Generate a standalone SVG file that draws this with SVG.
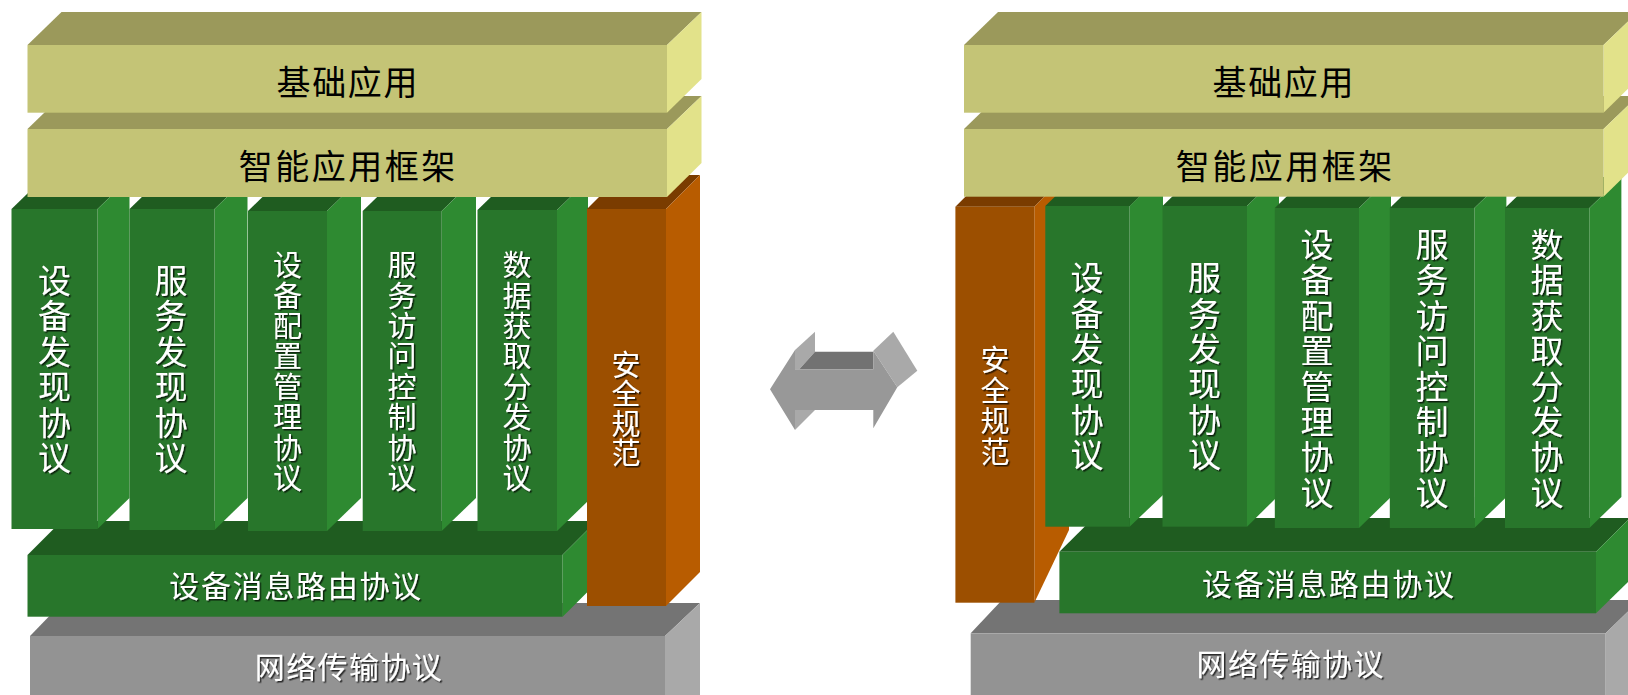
<svg xmlns="http://www.w3.org/2000/svg" width="1628" height="695" viewBox="0 0 1628 695">
<defs>
<style>
.yf{fill:#c4c476}.yt{fill:#9b995b}.ys{fill:#e2e28a}
.gf{fill:#28762b}.gt{fill:#1f5c20}.gs{fill:#2e8a31}
.of{fill:#9c4f00}.ot{fill:#7a3c00}.os{fill:#b85c00}
.nf{fill:#939393}.nt{fill:#747474}.ns{fill:#a9a9a9}
.af{fill:#989898}.at{fill:#727272}.as{fill:#a9a9a9}
text{font-family:"Liberation Sans","Noto Sans CJK SC","Noto Sans CJK JP",sans-serif}
.bk{fill:#000;font-size:34px;text-anchor:middle}
.wt{fill:#fff;text-anchor:middle;filter:url(#sh)}
.v33{font-size:33px}.v29{font-size:29px}.h30{font-size:30px}
</style>
<filter id="sh" x="-20%" y="-20%" width="140%" height="140%">
<feDropShadow dx="1.5" dy="1.5" stdDeviation="0.6" flood-color="#000" flood-opacity="0.7"/>
</filter>
</defs>
<rect width="1628" height="695" fill="#fff"/>

<!-- LEFT STACK -->
<g id="left-network">
<polygon class="nt" points="30,636 62,603 700,603 665,636"/>
<polygon class="ns" points="665,636 700,603 700,695 665,695"/>
<rect class="nf" x="30" y="636" width="635" height="59"/>
<text class="wt h30" x="349" y="678.4" letter-spacing="1.4">网络传输协议</text>
</g>
<g id="left-routing">
<polygon class="gt" points="27.5,555 61.5,521 596.5,521 562.4,555"/>
<polygon class="gs" points="562.4,555 596.5,521 596.5,583 562.4,617"/>
<rect class="gf" x="27.5" y="555" width="534.9" height="61.7"/>
<text class="wt h30" x="296" y="597.4" letter-spacing="1.7">设备消息路由协议</text>
</g>
<g id="left-col1">
<polygon class="gt" points="11.5,209 43.5,178 129.5,178 97.5,209"/>
<polygon class="gs" points="97.5,209 129.5,178 129.5,498 97.5,529"/>
<rect class="gf" x="11.5" y="209" width="86" height="320"/>
<text class="wt v33"><tspan x="54.5" y="293">设</tspan><tspan x="54.5" y="328.4">备</tspan><tspan x="54.5" y="363.8">发</tspan><tspan x="54.5" y="399.2">现</tspan><tspan x="54.5" y="434.6">协</tspan><tspan x="54.5" y="470">议</tspan></text>
</g>
<g id="left-col2">
<polygon class="gt" points="129.5,209 161.5,178 246.5,178 214.5,209"/>
<polygon class="gs" points="214.5,209 247.5,177 247.5,498 214.5,530"/>
<rect class="gf" x="129.5" y="209" width="85" height="321"/>
<text class="wt v33"><tspan x="171" y="293">服</tspan><tspan x="171" y="328.4">务</tspan><tspan x="171" y="363.8">发</tspan><tspan x="171" y="399.2">现</tspan><tspan x="171" y="434.6">协</tspan><tspan x="171" y="470">议</tspan></text>
</g>
<g id="left-col3">
<polygon class="gt" points="248,211 280,180 359,180 327,211"/>
<polygon class="gs" points="327,211 361,178 361,498 327,531"/>
<rect class="gf" x="248" y="211" width="79" height="320"/>
<text class="wt v29"><tspan x="287.5" y="276.1">设</tspan><tspan x="287.5" y="306.5">备</tspan><tspan x="287.5" y="336.9">配</tspan><tspan x="287.5" y="367.3">置</tspan><tspan x="287.5" y="397.7">管</tspan><tspan x="287.5" y="428.1">理</tspan><tspan x="287.5" y="458.5">协</tspan><tspan x="287.5" y="488.9">议</tspan></text>
</g>
<g id="left-col4">
<polygon class="gt" points="362.7,211 394.7,180 473.7,180 441.7,211"/>
<polygon class="gs" points="441.7,211 476,178 476,498 441.7,531"/>
<rect class="gf" x="362.7" y="211" width="79" height="320"/>
<text class="wt v29"><tspan x="402" y="276.1">服</tspan><tspan x="402" y="306.5">务</tspan><tspan x="402" y="336.9">访</tspan><tspan x="402" y="367.3">问</tspan><tspan x="402" y="397.7">控</tspan><tspan x="402" y="428.1">制</tspan><tspan x="402" y="458.5">协</tspan><tspan x="402" y="488.9">议</tspan></text>
</g>
<g id="left-col5">
<polygon class="gt" points="477.5,210 508.5,180 588,180 557,210"/>
<polygon class="gs" points="557,210 588,180 588,501 557,531"/>
<rect class="gf" x="477.5" y="210" width="79.5" height="321"/>
<text class="wt v29"><tspan x="517" y="276.1">数</tspan><tspan x="517" y="306.5">据</tspan><tspan x="517" y="336.9">获</tspan><tspan x="517" y="367.3">取</tspan><tspan x="517" y="397.7">分</tspan><tspan x="517" y="428.1">发</tspan><tspan x="517" y="458.5">协</tspan><tspan x="517" y="488.9">议</tspan></text>
</g>
<g id="left-security">
<polygon class="ot" points="587,209 621,175 700,175 666,209"/>
<polygon class="os" points="666,209 700,175 700,572 666,606"/>
<rect class="of" x="587" y="209" width="79" height="397"/>
<text class="wt v29"><tspan x="626" y="375.6">安</tspan><tspan x="626" y="405.2">全</tspan><tspan x="626" y="434.8">规</tspan><tspan x="626" y="464.4">范</tspan></text>
</g>
<g id="left-framework">
<polygon class="yt" points="27.5,129 61.5,96 701.5,96 667,129"/>
<polygon class="ys" points="667,129 701.5,96 701.5,163 667,197"/>
<rect class="yf" x="27.5" y="129" width="639.5" height="68"/>
<text class="bk" x="348.3" y="178.9" letter-spacing="2.5">智能应用框架</text>
</g>
<g id="left-app">
<polygon class="yt" points="27.5,45 61.5,12 701.5,12 667,45"/>
<polygon class="ys" points="667,45 701.5,12 701.5,79 667,112.7"/>
<rect class="yf" x="27.5" y="45" width="639.5" height="67.7"/>
<text class="bk" x="347.8" y="94.6" letter-spacing="1.6">基础应用</text>
</g>

<!-- RIGHT STACK -->
<g id="right-network">
<polygon class="nt" points="970.7,633.3 1002,600 1640,600 1605.6,633.3"/>
<polygon class="ns" points="1605.6,633.3 1640,600 1640,695 1605.6,695"/>
<rect class="nf" x="970.7" y="633.3" width="634.9" height="62"/>
<text class="wt h30" x="1290.7" y="675.4" letter-spacing="1.4">网络传输协议</text>
</g>
<g id="right-security">
<polygon class="ot" points="955.4,206.7 990,172 1069,172 1034.3,206.7"/>
<polygon class="os" points="1034.3,206.7 1069,172 1069,530 1034.3,602.7"/>
<rect class="of" x="955.4" y="206.7" width="78.9" height="396"/>
<text class="wt v29"><tspan x="995" y="371.4">安</tspan><tspan x="995" y="401.8">全</tspan><tspan x="995" y="432.2">规</tspan><tspan x="995" y="462.6">范</tspan></text>
</g>
<g id="right-routing">
<polygon class="gt" points="1059.4,551.7 1093.4,518 1630,518 1596,551.7"/>
<polygon class="gs" points="1596,551.7 1630,518 1630,580 1596,613.3"/>
<rect class="gf" x="1059.4" y="551.7" width="536.6" height="61.6"/>
<text class="wt h30" x="1328.8" y="595.4" letter-spacing="1.7">设备消息路由协议</text>
</g>
<g id="right-col1">
<polygon class="gt" points="1045.3,206 1077.3,175 1162,175 1130,206"/>
<polygon class="gs" points="1129.6,206 1163,174 1163,495 1129.6,526.7"/>
<rect class="gf" x="1045.3" y="206" width="84.3" height="320.7"/>
<text class="wt v33"><tspan x="1087" y="290.3">设</tspan><tspan x="1087" y="325.6">备</tspan><tspan x="1087" y="360.9">发</tspan><tspan x="1087" y="396.2">现</tspan><tspan x="1087" y="431.5">协</tspan><tspan x="1087" y="466.8">议</tspan></text>
</g>
<g id="right-col2">
<polygon class="gt" points="1162.5,206 1194.5,175 1279,175 1247,206"/>
<polygon class="gs" points="1247,206 1279,175 1279,495 1247,526.7"/>
<rect class="gf" x="1162.5" y="206" width="84.5" height="320.7"/>
<text class="wt v33"><tspan x="1204.5" y="290.3">服</tspan><tspan x="1204.5" y="325.6">务</tspan><tspan x="1204.5" y="360.9">发</tspan><tspan x="1204.5" y="396.2">现</tspan><tspan x="1204.5" y="431.5">协</tspan><tspan x="1204.5" y="466.8">议</tspan></text>
</g>
<g id="right-col3">
<polygon class="gt" points="1274.8,208 1306.8,177 1391,177 1359,208"/>
<polygon class="gs" points="1359,208 1391,177 1391,497 1359,528"/>
<rect class="gf" x="1274.8" y="208" width="84.2" height="320"/>
<text class="wt v33"><tspan x="1317" y="256.9">设</tspan><tspan x="1317" y="292.3">备</tspan><tspan x="1317" y="327.7">配</tspan><tspan x="1317" y="363.1">置</tspan><tspan x="1317" y="398.5">管</tspan><tspan x="1317" y="433.9">理</tspan><tspan x="1317" y="469.3">协</tspan><tspan x="1317" y="504.7">议</tspan></text>
</g>
<g id="right-col4">
<polygon class="gt" points="1389.8,208 1421.8,177 1506.4,177 1474.4,208"/>
<polygon class="gs" points="1474.4,208 1506.4,177 1506.4,497 1474.4,528"/>
<rect class="gf" x="1389.8" y="208" width="84.6" height="320"/>
<text class="wt v33"><tspan x="1432" y="256.9">服</tspan><tspan x="1432" y="292.3">务</tspan><tspan x="1432" y="327.7">访</tspan><tspan x="1432" y="363.1">问</tspan><tspan x="1432" y="398.5">控</tspan><tspan x="1432" y="433.9">制</tspan><tspan x="1432" y="469.3">协</tspan><tspan x="1432" y="504.7">议</tspan></text>
</g>
<g id="right-col5">
<polygon class="gt" points="1505,208 1537,177 1621.4,177 1589.4,208"/>
<polygon class="gs" points="1589.4,208 1621.4,177 1621.4,497 1589.4,528"/>
<rect class="gf" x="1505" y="208" width="84.4" height="320"/>
<text class="wt v33"><tspan x="1547" y="256.9">数</tspan><tspan x="1547" y="292.3">据</tspan><tspan x="1547" y="327.7">获</tspan><tspan x="1547" y="363.1">取</tspan><tspan x="1547" y="398.5">分</tspan><tspan x="1547" y="433.9">发</tspan><tspan x="1547" y="469.3">协</tspan><tspan x="1547" y="504.7">议</tspan></text>
</g>
<g id="right-framework">
<polygon class="yt" points="964,129 998,96 1638,96 1603.5,129"/>
<polygon class="ys" points="1603.5,129 1638,96 1638,163 1603.5,196.7"/>
<rect class="yf" x="964" y="129" width="639.5" height="67.7"/>
<text class="bk" x="1285.3" y="178.9" letter-spacing="2.5">智能应用框架</text>
</g>
<g id="right-app">
<polygon class="yt" points="964,45 998,12 1638,12 1603.5,45"/>
<polygon class="ys" points="1603.5,45 1638,12 1638,79 1603.5,112.7"/>
<rect class="yf" x="964" y="45" width="639.5" height="67.7"/>
<text class="bk" x="1283.8" y="94.6" letter-spacing="1.6">基础应用</text>
</g>

<!-- CONNECTOR: double arrow -->
<g id="connectors">
<polygon class="as" points="795,350 815,331.7 815,351.7 799.3,369.3 795,369.3"/>
<polygon class="at" points="799.3,369.3 815,351.7 873.3,351.7 873.3,369.3"/>
<polygon class="as" points="873.3,350.7 893.3,331.7 917.3,370.7 897.3,387.3"/>
<polygon class="as" points="795,410 815,410 795,430"/>
<polygon class="af" points="770,389.3 795,350 795,369.3 873.3,369.3 873.3,350.7 897.3,387.3 873.3,428.3 873.3,410 795,410 795,430"/>
</g>
</svg>
